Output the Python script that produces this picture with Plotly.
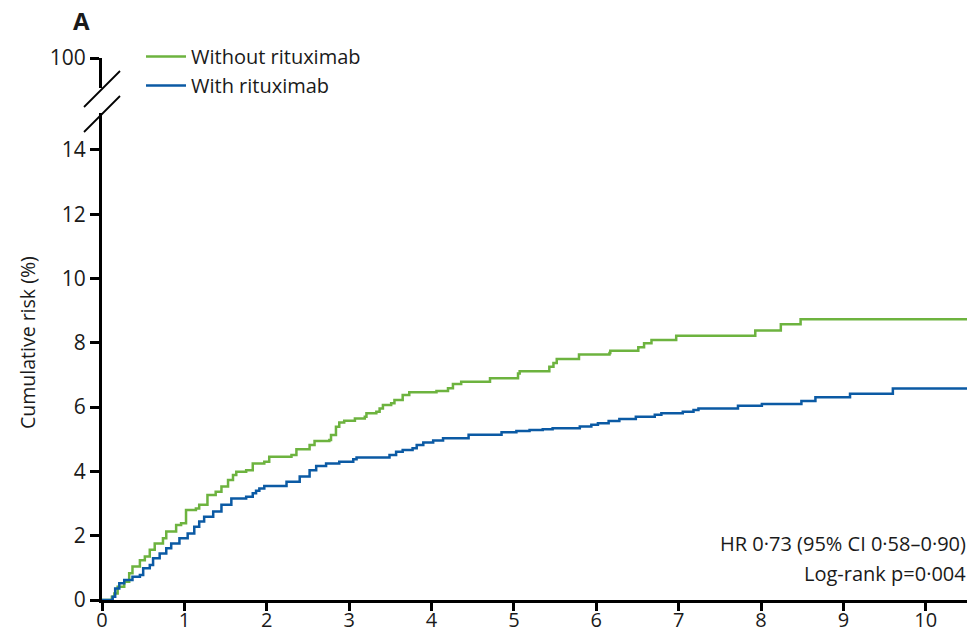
import plotly.graph_objects as go

# Kaplan-Meier step curves: years since randomisation vs cumulative risk (%)
years_without = [0, 0.12, 0.15, 0.19, 0.27, 0.33, 0.37, 0.46, 0.52, 0.58, 0.64, 0.74, 0.78,
                 0.90, 0.96, 1.02, 1.14, 1.18, 1.28, 1.38, 1.45, 1.53, 1.59, 1.63, 1.75,
                 1.83, 1.97, 2.03, 2.30, 2.36, 2.52, 2.58, 2.76, 2.78, 2.84, 2.88, 2.94,
                 3.07, 3.19, 3.21, 3.33, 3.37, 3.41, 3.51, 3.55, 3.65, 3.73, 4.06, 4.20,
                 4.26, 4.36, 4.71, 5.05, 5.07, 5.43, 5.48, 5.52, 5.79, 6.16, 6.17, 6.51,
                 6.58, 6.67, 6.97, 7.93, 8.24, 8.48, 10.5]
risk_without = [0, 0.10, 0.20, 0.41, 0.57, 0.83, 1.04, 1.24, 1.35, 1.56, 1.76, 1.92, 2.13,
                2.33, 2.39, 2.80, 2.85, 2.96, 3.27, 3.37, 3.53, 3.73, 3.89, 3.99, 4.04,
                4.25, 4.30, 4.46, 4.51, 4.69, 4.82, 4.95, 4.98, 5.13, 5.39, 5.52, 5.58,
                5.65, 5.70, 5.81, 5.86, 5.96, 6.07, 6.12, 6.22, 6.38, 6.46, 6.50, 6.59,
                6.72, 6.79, 6.90, 7.05, 7.12, 7.26, 7.37, 7.50, 7.64, 7.68, 7.75, 7.86,
                7.99, 8.09, 8.22, 8.38, 8.58, 8.73, 8.73]

years_with = [0, 0.13, 0.16, 0.21, 0.27, 0.37, 0.46, 0.50, 0.58, 0.62, 0.70, 0.78, 0.84,
              0.94, 1.04, 1.12, 1.18, 1.24, 1.35, 1.45, 1.57, 1.75, 1.83, 1.87, 1.91,
              1.97, 2.24, 2.40, 2.52, 2.60, 2.72, 2.88, 3.05, 3.09, 3.49, 3.57, 3.65,
              3.77, 3.82, 3.90, 4.02, 4.14, 4.45, 4.85, 5.03, 5.19, 5.35, 5.47, 5.80,
              5.94, 6.02, 6.15, 6.28, 6.48, 6.71, 6.79, 7.05, 7.18, 7.24, 7.72, 8.01,
              8.49, 8.66, 9.08, 9.60, 10.5]
risk_with = [0, 0.10, 0.36, 0.52, 0.62, 0.72, 0.78, 0.99, 1.09, 1.30, 1.45, 1.61, 1.76,
             1.92, 2.07, 2.28, 2.44, 2.59, 2.75, 2.96, 3.16, 3.21, 3.32, 3.40, 3.47,
             3.55, 3.68, 3.84, 4.04, 4.17, 4.25, 4.30, 4.38, 4.43, 4.51, 4.61, 4.67,
             4.72, 4.82, 4.90, 4.96, 5.03, 5.14, 5.22, 5.26, 5.29, 5.31, 5.34, 5.40,
             5.45, 5.50, 5.57, 5.63, 5.70, 5.76, 5.81, 5.86, 5.91, 5.96, 6.04, 6.10,
             6.19, 6.31, 6.42, 6.58, 6.58]

x_ticks = list(range(0, 11))
y_ticks = list(range(0, 15, 2))
upper_tick = [100]

GREEN = "#6db33f"
BLUE = "#0b5aa4"
FONT = "Open Sans"
INK = "#1a1a1a"

fig = go.Figure()
fig.add_trace(go.Scatter(x=years_without, y=risk_without, mode="lines", line_shape="hv",
                         line=dict(color=GREEN, width=2.5), name="Without rituximab"))
fig.add_trace(go.Scatter(x=years_with, y=risk_with, mode="lines", line_shape="hv",
                         line=dict(color=BLUE, width=2.5), name="With rituximab"))
# empty trace so the short upper axis segment (100%) is rendered
fig.add_trace(go.Scatter(x=[], y=[], yaxis="y2", showlegend=False, hoverinfo="skip"))

# plot area in pixels: left 102, bottom 600, top 58 (width 865, height 542)
L, B, T, W = 102, 600, 58, 865
H = B - T

def px_x(px):
    return (px - L) / W

def px_y(py):
    return (B - py) / H

axis_common = dict(showline=True, linecolor="black", linewidth=3, ticks="outside",
                   tickcolor="black", tickwidth=2.5, showgrid=False, zeroline=False,
                   automargin=False,
                   tickfont=dict(family=FONT, size=21, color=INK))

fig.update_layout(
    width=971, height=633,
    margin=dict(l=L, r=971 - L - W, t=T, b=633 - B),
    paper_bgcolor="white", plot_bgcolor="white",
    font=dict(family=FONT, color=INK),
    xaxis=dict(range=[0, 10.5], tickvals=x_ticks, ticklen=8, ticklabelstandoff=-8,
               **{**axis_common, "tickfont": dict(family=FONT, size=20, color=INK)}),
    yaxis=dict(range=[0, 15.15], domain=[0, px_y(113)], tickvals=y_ticks, ticklen=9,
               **axis_common),
    yaxis2=dict(range=[96, 100], domain=[px_y(88), 1], tickvals=upper_tick, ticklen=9,
                anchor="x", **axis_common),
    legend=dict(x=px_x(141), y=px_y(37), xanchor="left", yanchor="top",
                font=dict(family=FONT, size=20, color=INK),
                itemwidth=40, bgcolor="rgba(0,0,0,0)", tracegroupgap=0),
    showlegend=True,
)

# axis break marks
for y0, y1 in [(107, 71), (132, 96)]:
    fig.add_shape(type="line", xref="paper", yref="paper",
                  x0=px_x(84), y0=px_y(y0), x1=px_x(120), y1=px_y(y1),
                  line=dict(color="black", width=1.8))

fig.add_annotation(text="Cumulative risk (%)", xref="paper", yref="paper",
                   x=px_x(27), y=px_y(343), xanchor="center", yanchor="middle",
                   textangle=-90, showarrow=False,
                   font=dict(family=FONT, size=19.5, color=INK))
fig.add_annotation(text="<b>A</b>", xref="paper", yref="paper",
                   x=px_x(81), y=px_y(21), xanchor="center", yanchor="middle",
                   showarrow=False, font=dict(family=FONT, size=24, color=INK))
fig.add_annotation(text="HR 0·73 (95% CI 0·58–0·90)", xref="paper", yref="paper",
                   x=px_x(968), y=px_y(543), xanchor="right", yanchor="middle",
                   showarrow=False, font=dict(family=FONT, size=20, color=INK))
fig.add_annotation(text="Log-rank p=0·004", xref="paper", yref="paper",
                   x=px_x(968), y=px_y(573), xanchor="right", yanchor="middle",
                   showarrow=False, font=dict(family=FONT, size=20, color=INK))

fig.write_html("out.html")
